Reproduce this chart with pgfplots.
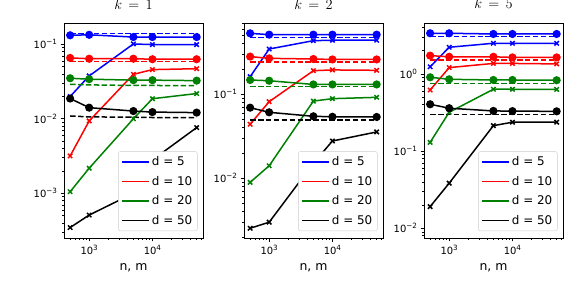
\documentclass[border=0pt]{standalone}
\usepackage{fontspec}
\setmainfont{DejaVu Sans}
\usepackage{pgfplots}
\usepackage{pgfplotstable}
\pgfplotsset{compat=1.18}
\definecolor{mblue}{rgb}{0,0,1}
\definecolor{mred}{rgb}{1,0,0}
\definecolor{mgreen}{rgb}{0,0.5,0}
\newcommand\tp[1]{10\raisebox{0.42em}{\fontsize{7.2bp}{7.2bp}\selectfont #1}}

\pgfplotstableread{
x c5 e5 x5 c10 e10 x10 c20 e20 x20 c50 e50 x50
500 0.132 0.139 0.0199 0.0656 0.059 0.00317 0.035 0.029 0.00105 0.0187 0.0109 0.000347
1000 0.134 0.139 0.0376 0.064 0.059 0.00935 0.034 0.0285 0.00217 0.0141 0.0106 0.00051
5000 0.125 0.139 0.101 0.064 0.059 0.0395 0.033 0.028 0.0100 0.0127 0.0105 0.0010
10000 0.125 0.139 0.099 0.063 0.059 0.0457 0.033 0.028 0.0186 0.0123 0.0104 0.0028
50000 0.125 0.139 0.099 0.063 0.059 0.047 0.0325 0.0278 0.0218 0.0121 0.0104 0.00762
}\tabA
\pgfplotstableread{
x c5 e5 x5 c10 e10 x10 c20 e20 x20 c50 e50 x50
500 0.532 0.472 0.162 0.281 0.243 0.044 0.148 0.123 0.00895 0.0693 0.0494 0.00254
1000 0.513 0.472 0.346 0.268 0.243 0.0817 0.145 0.123 0.0141 0.061 0.0494 0.0030
5000 0.513 0.472 0.435 0.263 0.243 0.191 0.131 0.123 0.083 0.0547 0.0494 0.0151
10000 0.513 0.472 0.44 0.26 0.243 0.195 0.131 0.123 0.0887 0.054 0.0494 0.0278
50000 0.513 0.472 0.44 0.26 0.243 0.193 0.131 0.123 0.092 0.0537 0.0494 0.0356
}\tabB
\pgfplotstableread{
x c5 e5 x5 c10 e10 x10 c20 e20 x20 c50 e50 x50
500 3.37 3.04 1.24 1.73 1.52 0.62 0.906 0.757 0.130 0.405 0.30 0.0191
1000 3.37 3.04 2.22 1.67 1.52 1.21 0.853 0.757 0.319 0.36 0.30 0.0384
5000 3.3 3.04 2.5 1.67 1.52 1.37 0.836 0.757 0.634 0.332 0.30 0.214
10000 3.3 3.04 2.5 1.64 1.52 1.37 0.836 0.757 0.634 0.33 0.30 0.237
50000 3.3 3.04 2.5 1.64 1.52 1.35 0.83 0.757 0.63 0.328 0.30 0.237
}\tabC

\newcommand\grp[3]{%
 \addplot[#2, line width=1.5bp, mark=*, mark size=3.3bp, mark options={solid}, forget plot] table[x=x,y=c#3]{#1};
 \addplot[#2, line width=1.5bp, no marks, dash pattern=on 5.5bp off 2.4bp, forget plot] table[x=x,y=e#3]{#1};
 \addplot[#2, line width=1.5bp, mark=x, mark size=3.1bp, forget plot] table[x=x,y=x#3]{#1};
}
\newcommand\legl[2]{\addlegendimage{legend image code/.code={\draw[#1, line width=1.5bp] (0bp,0bp) -- (27bp,0bp);}}\addlegendentry{#2}}
\newcommand\allgrp[1]{%
 \grp{#1}{mblue}{5}\grp{#1}{mred}{10}\grp{#1}{mgreen}{20}\grp{#1}{black}{50}
 \legl{mblue}{d = 5}\legl{mred}{d = 10}\legl{mgreen}{d = 20}\legl{black}{d = 50}
}

\begin{document}
\begin{tikzpicture}
\useasboundingbox (0bp,0bp) rectangle (564bp,290bp);
\pgfplotsset{
  scale only axis, width=139bp, height=215bp,
  xmin=400, xmax=63000,
  xtick={1000,10000}, xticklabels={\tp{3},\tp{4}},
  minor xtick={500,600,700,800,900,2000,3000,4000,5000,6000,7000,8000,9000,20000,30000,40000,50000,60000},
  tick align=outside, tick pos=left,
  major tick length=3.5bp, minor tick length=2bp,
  every tick/.append style={black, line width=0.8bp},
  every minor tick/.append style={black, line width=0.6bp},
  axis line style={line width=0.8bp},
  tick label style={font=\fontsize{10}{10}\selectfont},
  every axis x label/.style={at={(axis description cs:0.5,0)}, anchor=base, yshift=-32bp, font=\fontsize{12.5}{12.5}\selectfont},
  every axis title/.style={at={(axis description cs:0.5,1)}, anchor=base, yshift=14bp, font=\fontsize{15}{15}\selectfont},
  legend style={at={(1,0)}, anchor=south east, xshift=-5.5bp, yshift=7bp,
    draw=black!20, rounded corners=2bp, fill=white,
    font=\fontsize{12}{12}\selectfont, inner xsep=3bp, inner ysep=3bp, row sep=5bp,
    cells={anchor=west}},
}
\begin{loglogaxis}[anchor=south west, at={(64bp,52bp)}, ymin=2.51e-4, ymax=0.193,
  title={$k\,=\,1$}, xlabel={n, m},
  ytick={0.001,0.01,0.1}, yticklabels={\tp{−3},\tp{−2},\tp{−1}},
  minor ytick={3e-4,4e-4,5e-4,6e-4,7e-4,8e-4,9e-4,2e-3,3e-3,4e-3,5e-3,6e-3,7e-3,8e-3,9e-3,2e-2,3e-2,4e-2,5e-2,6e-2,7e-2,8e-2,9e-2}]
\allgrp{\tabA}
\end{loglogaxis}
\begin{loglogaxis}[anchor=south west, at={(244bp,52bp)}, ymin=1.945e-3, ymax=0.706,
  title={$k\,=\,2$}, xlabel={n, m},
  ytick={0.01,0.1}, yticklabels={\tp{−2},\tp{−1}},
  minor ytick={2e-3,3e-3,4e-3,5e-3,6e-3,7e-3,8e-3,9e-3,2e-2,3e-2,4e-2,5e-2,6e-2,7e-2,8e-2,9e-2,0.2,0.3,0.4,0.5,0.6,0.7}]
\allgrp{\tabB}
\end{loglogaxis}
\begin{loglogaxis}[anchor=south west, at={(424bp,52bp)}, ymin=7.48e-3, ymax=4.58,
  title={$k\,=\,5$}, xlabel={n, m},
  ytick={0.01,0.1,1}, yticklabels={\tp{−2},\tp{−1},\tp{0}},
  minor ytick={8e-3,9e-3,2e-2,3e-2,4e-2,5e-2,6e-2,7e-2,8e-2,9e-2,0.2,0.3,0.4,0.5,0.6,0.7,0.8,0.9,2,3,4}]
\allgrp{\tabC}
\end{loglogaxis}
\end{tikzpicture}
\end{document}
